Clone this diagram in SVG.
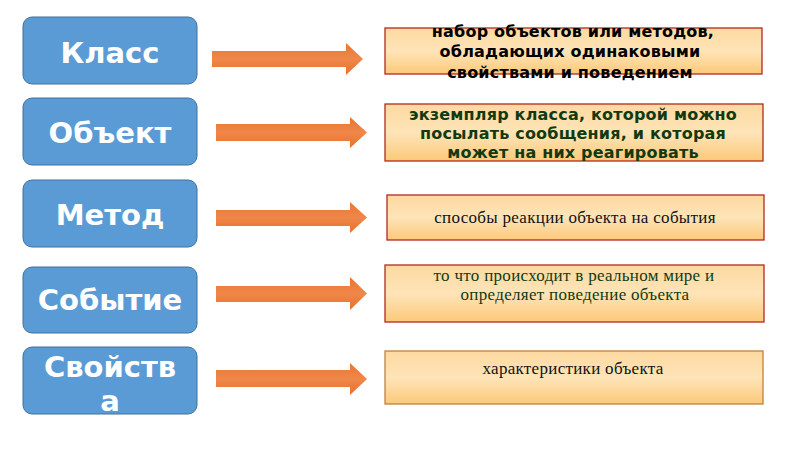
<svg xmlns="http://www.w3.org/2000/svg" width="800" height="449" viewBox="0 0 800 449">
<defs>
<linearGradient id="peach" x1="0" y1="0" x2="0" y2="1">
<stop offset="0" stop-color="#fdd9a0"/>
<stop offset="0.5" stop-color="#fee4b8"/>
<stop offset="1" stop-color="#fcc979"/>
</linearGradient>
<linearGradient id="arr" x1="0" y1="0" x2="0" y2="1">
<stop offset="0" stop-color="#e8762e"/>
<stop offset="0.5" stop-color="#f0874a"/>
<stop offset="1" stop-color="#e5722b"/>
</linearGradient>
</defs>
<style>
.term rect{fill:#5b9bd5;stroke:#41719c;stroke-width:1}
.term text{font-family:"DejaVu Sans",Verdana,sans-serif;font-weight:bold;font-size:29px;fill:#fff;text-anchor:middle}
.def rect{fill:url(#peach);stroke:#b22a1e;stroke-width:1.3}
.sans{font-family:"DejaVu Sans",Verdana,sans-serif;font-weight:bold;font-size:16px;text-anchor:middle;letter-spacing:0.2px}
.serif{font-family:"Liberation Serif","Times New Roman",serif;font-size:17px;text-anchor:middle;letter-spacing:0.3px}
.arrow{fill:url(#arr)}
</style>
<g id="n-klass" class="term"><rect x="23" y="17" width="174" height="67" rx="9"/><text x="110" y="63">Класс</text></g>
<g id="n-obekt" class="term"><rect x="23" y="98" width="174" height="67" rx="9"/><text x="110" y="143">Объект</text></g>
<g id="n-metod" class="term"><rect x="23" y="180" width="174" height="67" rx="9"/><text x="110" y="225">Метод</text></g>
<g id="n-sobytie" class="term"><rect x="23" y="267" width="174" height="66" rx="9"/><text x="110" y="310">Событие</text></g>
<g id="n-svoistva" class="term"><rect x="23" y="347" width="174" height="67" rx="9"/><text x="110" y="377">Свойств</text><text x="110" y="411">а</text></g>

<g id="d-klass" class="def"><rect x="385" y="28" width="377" height="46"/>
<text class="sans" fill="#000" x="573" y="37">набор объектов или методов,</text>
<text class="sans" fill="#000" x="570" y="57">обладающих одинаковыми</text>
<text class="sans" fill="#000" x="570" y="78">свойствами и поведением</text></g>
<g id="d-obekt" class="def"><rect x="385" y="104" width="378" height="57"/>
<text class="sans" fill="#123a10" x="573" y="120">экземпляр класса, которой можно</text>
<text class="sans" fill="#123a10" x="573" y="139">посылать сообщения, и которая</text>
<text class="sans" fill="#123a10" x="573" y="158">может на них реагировать</text></g>
<g id="d-metod" class="def"><rect x="387" y="195" width="377" height="45"/>
<text class="serif" fill="#111" x="575" y="223">способы реакции объекта на события</text></g>
<g id="d-sobytie" class="def"><rect x="385" y="265" width="379" height="57"/>
<text class="serif" fill="#123a10" x="574" y="281">то что происходит в реальном мире и</text>
<text class="serif" fill="#123a10" x="575" y="300">определяет поведение объекта</text></g>
<g id="d-svoistva" class="def"><rect x="385" y="351" width="378" height="53" style="stroke:#c0803e"/>
<text class="serif" fill="#111" x="573" y="374">характеристики объекта</text></g>

<g id="connectors" class="arrow">
<polygon points="212,51 346,51 346,43 363,59 346,75 346,67 212,67"/>
<polygon points="216,124 350,124 350,117 367,132.5 350,148 350,141 216,141"/>
<polygon points="216,210 350,210 350,202 367,217.5 350,233 350,226 216,226"/>
<polygon points="216,286 350,286 350,277 367,293.5 350,310 350,302 216,302"/>
<polygon points="216,370 350,370 350,363 367,379 350,395 350,387 216,387"/>
</g>
</svg>
